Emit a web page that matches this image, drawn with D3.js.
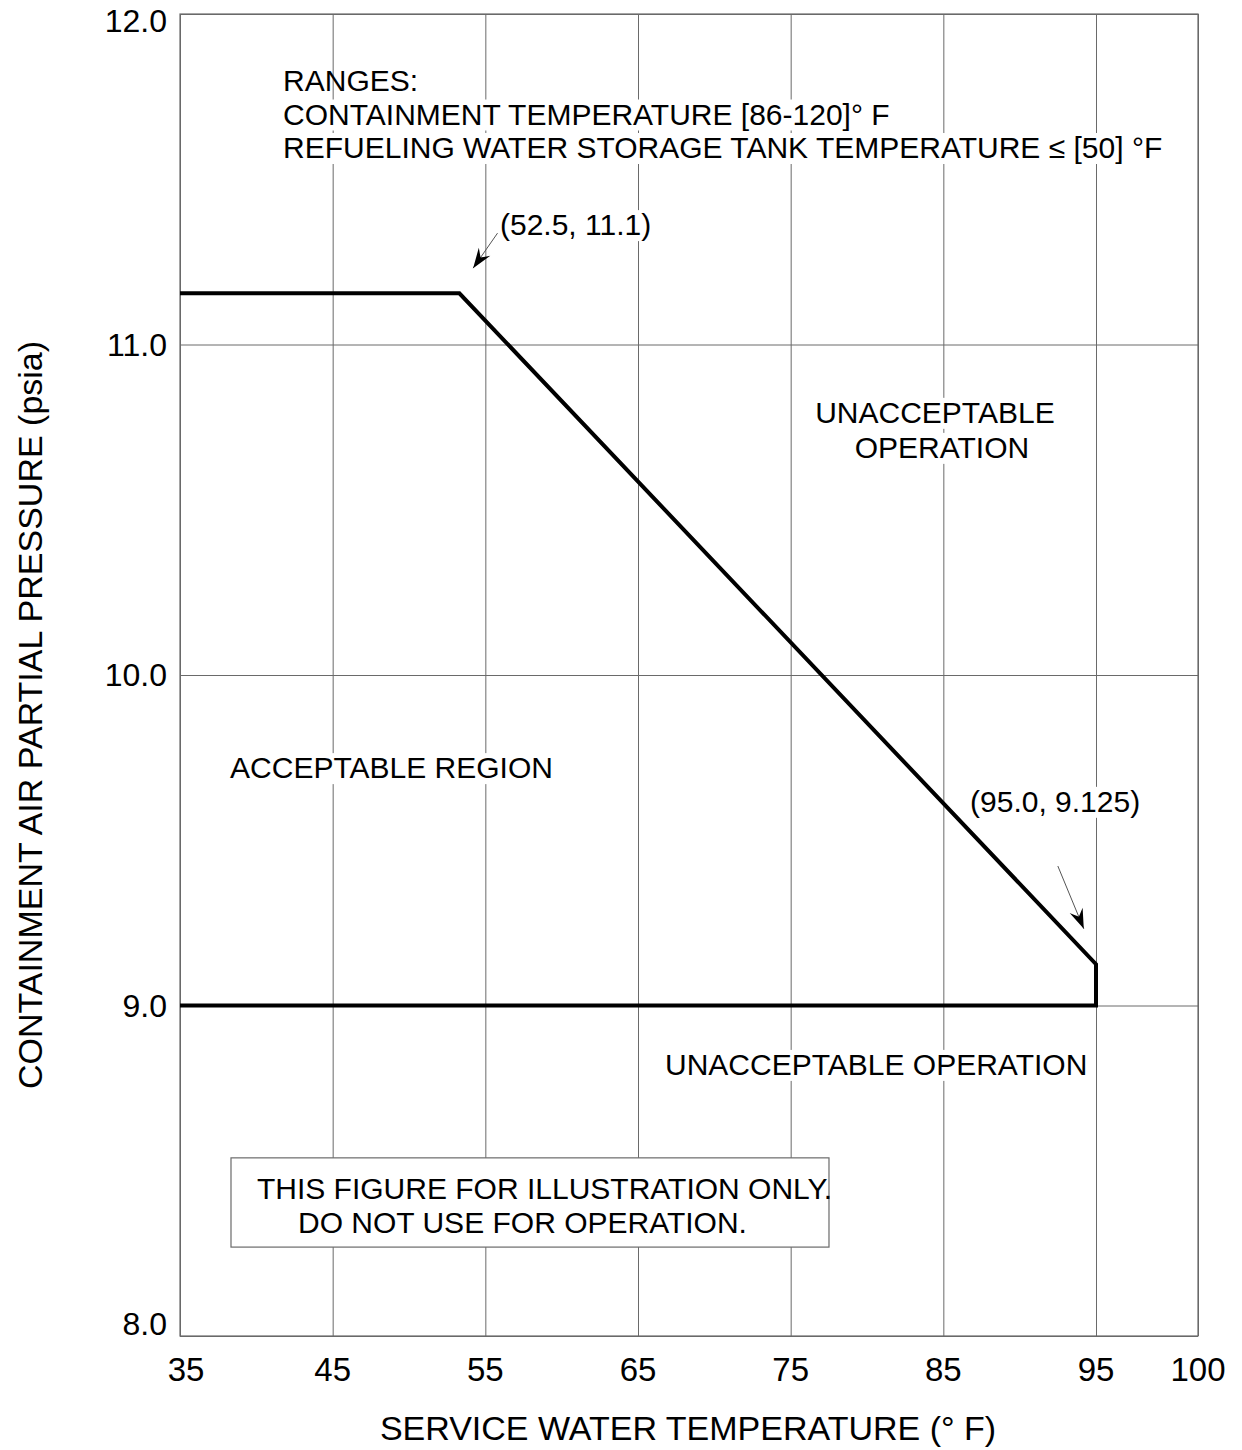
<!DOCTYPE html>
<html>
<head>
<meta charset="utf-8">
<script src="https://cdn.jsdelivr.net/npm/d3@7"></script>
<style>
  body { margin: 0; background: #fff; }
  svg { display: block; font-family: "Liberation Sans", Arial, sans-serif; }
  .grid line { stroke: #6a6a6a; stroke-width: 1; }
  .lbl { fill: #000; font-size: 30px; }
</style>
</head>
<body>
<div id="content"></div>
<script>
// axis ticks
var xTicks = [35, 45, 55, 65, 75, 85, 95, 100];
var yTicks = [8, 9, 10, 11, 12];
var yTickLabels = ["8.0", "9.0", "10.0", "11.0", "12.0"];

// limit curve (service water temp, air partial pressure)
var limitTemp = [35, 53.3, 95, 95, 35];
var limitPress = [11.155, 11.155, 9.125, 9.0, 9.0];

// annotation arrows: tail -> tip, in data units
var arrowFrom = [[55.8, 11.337], [92.5, 9.422]];
var arrowTo = [[54.2, 11.231], [94.2, 9.232]];

var rangesLines = ["RANGES:", "CONTAINMENT TEMPERATURE [86-120]\u00b0 F", "REFUELING WATER STORAGE TANK TEMPERATURE \u2264 [50] \u00b0F"];
var noteLines = ["THIS FIGURE FOR ILLUSTRATION ONLY.", "DO NOT USE FOR OPERATION."];

var W = 1242, H = 1450;
var pLeft = 180, pRight = 1198, pTop = 14, pBottom = 1336;

var svg = d3.select("#content").append("svg")
    .attr("width", W)
    .attr("height", H);

// last interval (95-100) is drawn wider than the others on the original
var x = d3.scaleLinear().domain([35, 95, 100]).range([pLeft, 1096, pRight]);
var y = d3.scaleLinear().domain([8, 12]).range([pBottom, pTop]);

// grid via axes
var gx = svg.append("g")
    .attr("class", "grid")
    .attr("transform", "translate(0," + pBottom + ")")
    .call(d3.axisBottom(x).tickValues(xTicks).tickSize(-(pBottom - pTop)).tickFormat(""));
var gy = svg.append("g")
    .attr("class", "grid")
    .attr("transform", "translate(" + pLeft + ",0)")
    .call(d3.axisLeft(y).tickValues(yTicks).tickSize(-(pRight - pLeft)).tickFormat(""));
gx.select(".domain").remove();
gy.select(".domain").remove();

svg.append("rect")
    .attr("x", pLeft).attr("y", pTop)
    .attr("width", pRight - pLeft).attr("height", pBottom - pTop)
    .style("fill", "none").style("stroke", "#6a6a6a").style("stroke-width", 1.2);

// tick labels
svg.selectAll(".xtick")
    .data(xTicks)
    .enter()
    .append("text")
        .attr("class", "lbl")
        .attr("x", d => x(d) + (d == 35 ? 6 : 0))
        .attr("y", 1381)
        .attr("text-anchor", "middle")
        .style("font-size", "33px")
        .text(d => d);

svg.selectAll(".ytick")
    .data(yTicks)
    .enter()
    .append("text")
        .attr("class", "lbl")
        .attr("x", 167)
        .attr("y", d => y(d) + 11 + (d == 12 ? 7 : 0) + (d == 8 ? -12 : 0))
        .attr("text-anchor", "end")
        .style("font-size", "32px")
        .text((d, i) => yTickLabels[i]);

// axis titles
svg.append("text")
    .attr("class", "lbl")
    .attr("x", 688).attr("y", 1440)
    .attr("text-anchor", "middle")
    .style("font-size", "34px")
    .text("SERVICE WATER TEMPERATURE (\u00b0 F)");

svg.append("text")
    .attr("class", "lbl")
    .attr("transform", "translate(42,715) rotate(-90)")
    .attr("text-anchor", "middle")
    .style("font-size", "34px")
    .text("CONTAINMENT AIR PARTIAL PRESSURE (psia)");

// white knock-out behind a text node
function knockout(t, pad) {
    var node = t.node();
    var b = node.getBBox();
    d3.select(node.parentNode).insert("rect", () => node)
        .attr("x", b.x - pad).attr("y", b.y + 2)
        .attr("width", b.width + 2 * pad).attr("height", b.height - 2)
        .style("fill", "#fff");
}

var notes = svg.append("g");

function addText(tx, ty, str, anchor) {
    return notes.append("text")
        .attr("class", "lbl")
        .attr("x", x(tx)).attr("y", y(ty))
        .attr("text-anchor", anchor || "start")
        .text(str);
}

// ranges block
rangesLines.forEach(function(s, i) {
    var t = addText(41.75, 11.767, s).attr("dy", i * 33.5);
    if (i > 0) knockout(t, 2);
});

knockout(addText(55.96, 11.331, "(52.5, 11.1)"), 2);
knockout(addText(84.45, 10.763, "UNACCEPTABLE", "middle"), 3);
knockout(addText(84.91, 10.657, "OPERATION", "middle"), 3);
knockout(addText(38.28, 9.688, "ACCEPTABLE REGION"), 3);
knockout(addText(86.75, 9.586, "(95.0, 9.125)"), 2);
knockout(addText(66.77, 8.79, "UNACCEPTABLE OPERATION"), 3);

// illustration-only box
notes.append("rect")
    .attr("x", x(38.34)).attr("y", y(8.539))
    .attr("width", x(77.51) - x(38.34)).attr("height", y(8.269) - y(8.539))
    .style("fill", "#fff").style("stroke", "#6a6a6a").style("stroke-width", 1.2);
addText(40.04, 8.415, noteLines[0]);
addText(42.73, 8.312, noteLines[1]);

// limit curve
var line = d3.line().x(d => x(d[0])).y(d => y(d[1]));
svg.append("path")
    .datum(d3.zip(limitTemp, limitPress))
    .attr("d", line)
    .style("fill", "none")
    .style("stroke", "#000")
    .style("stroke-width", 4)
    .style("stroke-linejoin", "miter");

// arrows
svg.append("defs").append("marker")
    .attr("id", "head")
    .attr("viewBox", "-21 -8 22 16")
    .attr("markerWidth", 22).attr("markerHeight", 16)
    .attr("markerUnits", "userSpaceOnUse")
    .attr("refX", 0).attr("refY", 0)
    .attr("orient", "auto")
    .append("path")
        .attr("d", "M0,0 L-20,-7 Q-14,-1 -13,0 Q-14,1 -20,7 Z")
        .style("fill", "#000");

svg.selectAll(".arrow")
    .data(d3.zip(arrowFrom, arrowTo))
    .enter()
    .append("line")
        .attr("x1", d => x(d[0][0])).attr("y1", d => y(d[0][1]))
        .attr("x2", d => x(d[1][0])).attr("y2", d => y(d[1][1]))
        .style("stroke", "#555")
        .style("stroke-width", 1)
        .attr("marker-end", "url(#head)");
</script>
</body>
</html>
